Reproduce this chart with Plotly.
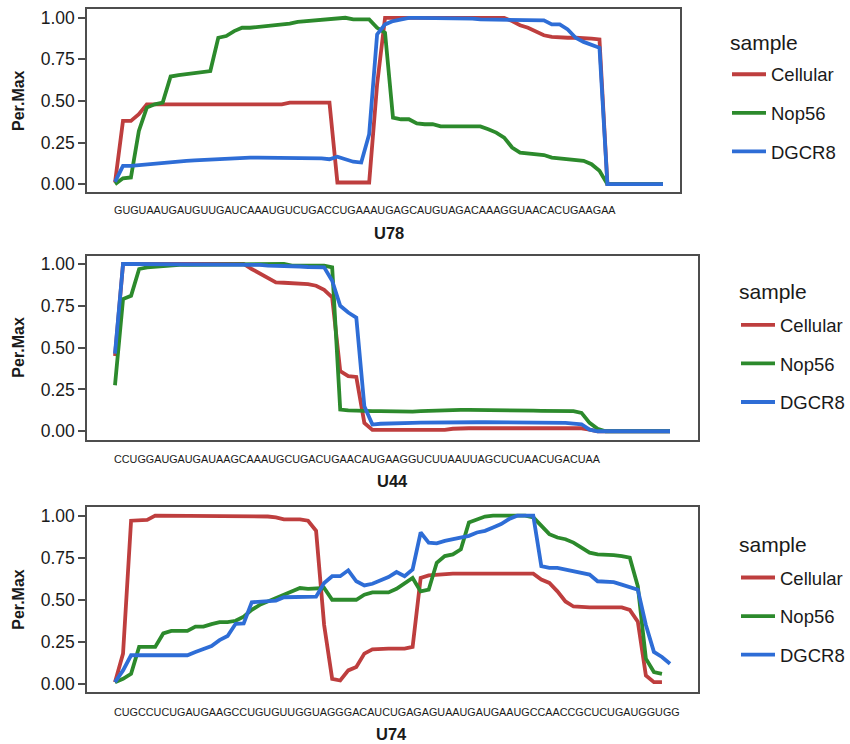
import plotly.graph_objects as go

# ---------------- data ----------------
positions = list(range(1, 71))
samples = ["Cellular", "Nop56", "DGCR8"]
panel_names = ["U78", "U44", "U74"]
sequences = [
    "GUGUAAUGAUGUUGAUCAAAUGUCUGACCUGAAAUGAGCAUGUAGACAAAGGUAACACUGAAGAA",
    "CCUGGAUGAUGAUAAGCAAAUGCUGACUGAACAUGAAGGUCUUAAUUAGCUCUAACUGACUAA",
    "CUGCCUCUGAUGAAGCCUGUGUUGGUAGGGACAUCUGAGAGUAAUGAUGAAUGCCAACCGCUCUGAUGGUGG",
]

u78_cellular = [0.01, 0.38, 0.38, 0.42, 0.48, 0.48, 0.48, 0.48, 0.48, 0.48,
                0.48, 0.48, 0.48, 0.48, 0.48, 0.48, 0.48, 0.48, 0.48, 0.48,
                0.48, 0.48, 0.49, 0.49, 0.49, 0.49, 0.49, 0.49, 0.01, 0.01,
                0.01, 0.01, 0.01, 0.60, 1.0, 1.0, 1.0, 1.0, 1.0, 1.0,
                1.0, 1.0, 1.0, 1.0, 1.0, 1.0, 1.0, 1.0, 1.0, 1.0,
                0.98, 0.955, 0.94, 0.915, 0.895, 0.885, 0.88, 0.88, 0.88, 0.88,
                0.875, 0.87, 0.0, 0.0, 0.0, 0.0, 0.0, 0.0, 0.0, 0.0]
u78_nop56 = [0.0, 0.035, 0.04, 0.32, 0.46, 0.48, 0.49, 0.647, 0.655, 0.66,
             0.665, 0.67, 0.68, 0.88, 0.89, 0.92, 0.94, 0.94, 0.945, 0.948,
             0.952, 0.958, 0.965, 0.975, 0.98, 0.985, 0.99, 0.993, 0.995, 1.0,
             0.99, 0.99, 0.99, 0.94, 0.91, 0.40, 0.39, 0.39, 0.365, 0.36,
             0.36, 0.347, 0.347, 0.347, 0.347, 0.347, 0.347, 0.33, 0.31, 0.28,
             0.22, 0.19, 0.185, 0.18, 0.175, 0.16, 0.155, 0.145, 0.14, 0.14,
             0.12, 0.08, 0.0, 0.0, 0.0, 0.0, 0.0, 0.0, 0.0, 0.0]
u78_dgcr8 = [0.014, 0.11, 0.11, 0.115, 0.12, 0.125, 0.13, 0.133, 0.137, 0.14,
             0.143, 0.146, 0.15, 0.152, 0.155, 0.157, 0.158, 0.16, 0.16, 0.16,
             0.16, 0.16, 0.16, 0.16, 0.16, 0.16, 0.155, 0.15, 0.165, 0.15,
             0.135, 0.13, 0.30, 0.90, 0.96, 0.98, 0.99, 1.0, 1.0, 1.0,
             1.0, 1.0, 1.0, 0.995, 0.995, 0.995, 0.99, 0.99, 0.99, 0.99,
             0.99, 0.99, 0.988, 0.988, 0.985, 0.96, 0.96, 0.93, 0.88, 0.855,
             0.84, 0.82, 0.0, 0.0, 0.0, 0.0, 0.0, 0.0, 0.0, 0.0]

u44_cellular = [0.45, 1.0, 1.0, 1.0, 1.0, 1.0, 1.0, 1.0, 1.0, 1.0,
                1.0, 1.0, 1.0, 1.0, 1.0, 1.0, 1.0, 0.97, 0.945, 0.92,
                0.89, 0.888, 0.886, 0.886, 0.88, 0.87, 0.845, 0.80, 0.36, 0.33,
                0.325, 0.05, 0.008, 0.008, 0.008, 0.008, 0.008, 0.008, 0.008, 0.008,
                0.008, 0.008, 0.015, 0.018, 0.018, 0.018, 0.018, 0.018, 0.018, 0.018,
                0.018, 0.018, 0.018, 0.018, 0.018, 0.018, 0.018, 0.018, 0.018, 0.01,
                0.0, 0.0, 0.0, 0.0, 0.0, 0.0, 0.0, 0.0, 0.0, 0.0]
u44_nop56 = [0.275, 0.79, 0.81, 0.97, 0.98, 0.985, 0.99, 0.995, 0.995, 0.995,
             0.995, 1.0, 1.0, 1.0, 1.0, 1.0, 1.0, 1.0, 1.0, 1.0,
             1.0, 1.0, 0.99, 0.99, 0.99, 0.995, 0.99, 0.98, 0.13, 0.125,
             0.122, 0.12, 0.12, 0.12, 0.118, 0.118, 0.117, 0.117, 0.12, 0.122,
             0.125, 0.128, 0.128, 0.128, 0.128, 0.128, 0.128, 0.128, 0.126, 0.125,
             0.124, 0.123, 0.123, 0.122, 0.122, 0.121, 0.12, 0.12, 0.11, 0.05,
             0.015, 0.0, 0.0, 0.0, 0.0, 0.0, 0.0, 0.0, 0.0, 0.0]
u44_dgcr8 = [0.464, 1.0, 1.0, 1.0, 1.0, 1.0, 1.0, 1.0, 1.0, 1.0,
             1.0, 1.0, 1.0, 1.0, 1.0, 1.0, 1.0, 1.0, 0.995, 0.99,
             0.99, 0.99, 0.988, 0.985, 0.982, 0.98, 0.98, 0.90, 0.75, 0.71,
             0.68, 0.15, 0.04, 0.045, 0.045, 0.048, 0.05, 0.05, 0.052, 0.053,
             0.054, 0.054, 0.054, 0.054, 0.054, 0.054, 0.054, 0.054, 0.054, 0.054,
             0.054, 0.054, 0.054, 0.054, 0.054, 0.052, 0.05, 0.046, 0.042, 0.01,
             0.0, 0.0, 0.0, 0.0, 0.0, 0.0, 0.0, 0.0, 0.0, 0.0]

u74_cellular = [0.01, 0.18, 0.97, 0.97, 0.975, 1.0, 1.0, 1.0, 1.0, 1.0,
                1.0, 1.0, 1.0, 1.0, 1.0, 1.0, 1.0, 1.0, 1.0, 0.995,
                0.99, 0.978, 0.978, 0.978, 0.97, 0.91, 0.35, 0.03, 0.02, 0.08,
                0.10, 0.18, 0.205, 0.21, 0.21, 0.21, 0.21, 0.22, 0.63, 0.645,
                0.65, 0.655, 0.655, 0.655, 0.655, 0.655, 0.655, 0.655, 0.655, 0.655,
                0.66, 0.66, 0.655, 0.62, 0.60, 0.55, 0.49, 0.46, 0.455, 0.455,
                0.455, 0.455, 0.455, 0.455, 0.44, 0.37, 0.05, 0.01, 0.01, None]
u74_nop56 = [0.01, 0.03, 0.06, 0.22, 0.22, 0.22, 0.30, 0.315, 0.315, 0.315,
             0.34, 0.34, 0.355, 0.367, 0.367, 0.375, 0.40, 0.44, 0.47, 0.49,
             0.51, 0.53, 0.55, 0.57, 0.565, 0.565, 0.57, 0.50, 0.50, 0.50,
             0.50, 0.53, 0.544, 0.544, 0.544, 0.565, 0.60, 0.63, 0.55, 0.56,
             0.72, 0.76, 0.77, 0.80, 0.96, 0.98, 0.995, 1.0, 1.0, 1.0,
             1.0, 1.0, 0.99, 0.94, 0.89, 0.87, 0.86, 0.84, 0.81, 0.78,
             0.77, 0.77, 0.765, 0.76, 0.75, 0.58, 0.15, 0.07, 0.06, None]
u74_dgcr8 = [0.01, 0.08, 0.17, 0.17, 0.17, 0.17, 0.17, 0.17, 0.17, 0.17,
             0.19, 0.205, 0.225, 0.26, 0.285, 0.357, 0.36, 0.485, 0.49, 0.49,
             0.495, 0.515, 0.515, 0.515, 0.518, 0.518, 0.60, 0.64, 0.64, 0.675,
             0.61, 0.585, 0.595, 0.615, 0.635, 0.665, 0.64, 0.68, 0.90, 0.84,
             0.835, 0.85, 0.86, 0.87, 0.88, 0.90, 0.91, 0.93, 0.95, 0.98,
             1.0, 1.0, 1.0, 0.70, 0.69, 0.69, 0.68, 0.67, 0.665, 0.65,
             0.61, 0.61, 0.605, 0.59, 0.575, 0.56, 0.35, 0.19, 0.16, 0.12]

panel_values = [
    [u78_cellular, u78_nop56, u78_dgcr8],
    [u44_cellular, u44_nop56, u44_dgcr8],
    [u74_cellular, u74_nop56, u74_dgcr8],
]
y_ticks = [0, 0.25, 0.5, 0.75, 1.0]
y_ticktext = ["0.00", "0.25", "0.50", "0.75", "1.00"]

# ---------------- styles / layout ----------------
W, H = 850, 744
colors = ["#BE3E3E", "#2C8A2C", "#2E6DD6"]
FONT = "Liberation Sans"

def fx(p):
    return min(1.0, max(0.0, p / W))

def fy(p):
    return min(1.0, max(0.0, 1 - p / H))

# positions below are in screen pixels of the 850x744 window
panel_px_x = [(87, 680), (87, 698), (87, 698)]
panel_px_y = [(7.5, 191.5), (255, 440), (508, 694)]
y_ranges = [(-0.05, 1.05), (-0.05, 1.05), (-0.05, 1.05)]
x_ranges = [(-2.53, 72.14), (-2.48, 73.48), (-2.48, 73.48)]
seq_y = [209.5, 459, 714]
name_y = [232.5, 482, 736]
name_x = [389, 392, 391]
legend_title_px = [(728, 41), (737, 291), (737, 545)]
legend_px = [(727, 54), (736, 306), (736, 560)]

fig = go.Figure()
annotations = []
layout = dict(
    width=W, height=H,
    margin=dict(l=0, r=0, t=0, b=0),
    paper_bgcolor="white", plot_bgcolor="white",
    font=dict(family=FONT, color="#1a1a1a"),
    showlegend=True,
)

for p in range(3):
    sfx = "" if p == 0 else str(p + 1)
    xa, ya = "x" + sfx, "y" + sfx
    leg = "legend" + sfx
    for s in range(3):
        fig.add_trace(go.Scatter(
            x=positions, y=panel_values[p][s], mode="lines",
            name=samples[s], line=dict(color=colors[s], width=3.8),
            xaxis=xa, yaxis=ya, legend=leg,
            legendgroup=f"p{p}_{s}",
        ))
    x0, x1 = panel_px_x[p]
    y0, y1 = panel_px_y[p]
    layout["xaxis" + sfx] = dict(
        domain=[fx(x0), fx(x1)], range=list(x_ranges[p]), anchor=ya,
        showgrid=False, zeroline=False, showticklabels=False, ticks="",
        showline=True, mirror=True, linecolor="#4d4d4d", linewidth=1.5,
    )
    layout["yaxis" + sfx] = dict(
        domain=[fy(y1), fy(y0)], range=list(y_ranges[p]), anchor=xa,
        showgrid=False, zeroline=False,
        tickvals=y_ticks, ticktext=y_ticktext,
        ticks="outside", ticklen=7, tickwidth=1.5, tickcolor="#4d4d4d",
        tickfont=dict(size=17.5, color="#1a1a1a", family=FONT),
        showline=True, mirror=True, linecolor="#4d4d4d", linewidth=1.5,
    )
    lx, ly = legend_px[p]
    layout[leg] = dict(
        x=fx(lx), y=fy(ly), xanchor="left", yanchor="top",
        xref="paper", yref="paper",
        font=dict(size=18.5, family=FONT, color="#1a1a1a"),
        traceorder="grouped", tracegroupgap=11.5,
        bgcolor="rgba(0,0,0,0)", itemwidth=34,
    )
    tx, ty = legend_title_px[p]
    annotations.append(dict(
        x=fx(tx), y=fy(ty), xref="paper", yref="paper",
        text="sample", showarrow=False,
        font=dict(size=21, family=FONT, color="#1a1a1a"),
        xanchor="left", yanchor="middle",
    ))
    # y-axis title
    annotations.append(dict(
        x=fx(19), y=fy((y0 + y1) / 2), xref="paper", yref="paper",
        text="<b>Per.Max</b>", textangle=-90, showarrow=False,
        font=dict(size=16, family=FONT, color="#1a1a1a"),
        xanchor="center", yanchor="middle",
    ))
    # sequence label
    annotations.append(dict(
        x=fx(112), y=fy(seq_y[p]), xref="paper", yref="paper",
        text=sequences[p], showarrow=False,
        font=dict(size=10.8, family=FONT, color="#1a1a1a"),
        xanchor="left", yanchor="middle",
    ))
    # panel name
    annotations.append(dict(
        x=fx(name_x[p]), y=fy(name_y[p]), xref="paper", yref="paper",
        text="<b>" + panel_names[p] + "</b>", showarrow=False,
        font=dict(size=16.5, family=FONT, color="#1a1a1a"),
        xanchor="center", yanchor="middle",
    ))

layout["annotations"] = annotations
fig.update_layout(**layout)
fig.write_html(
    "out.html",
    config={"displayModeBar": False},
    post_script="document.body.style.margin='0';document.body.style.overflow='hidden';",
)
